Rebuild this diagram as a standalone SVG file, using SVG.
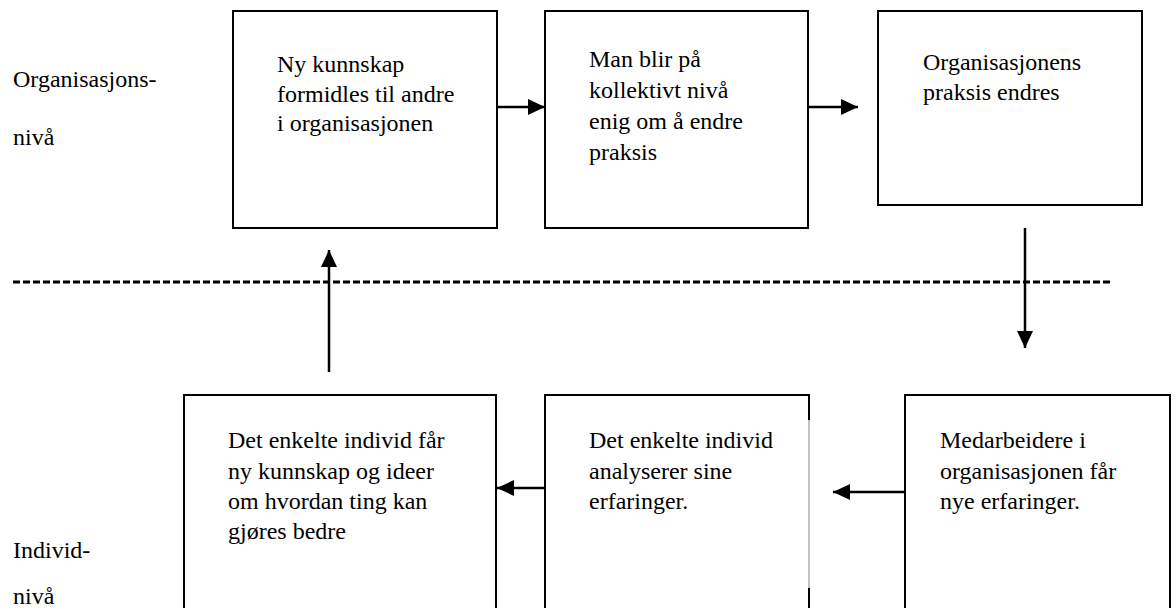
<svg xmlns="http://www.w3.org/2000/svg" width="1176" height="608" viewBox="0 0 1176 608">
<style>
.box{fill:none;stroke:#000;stroke-width:2}
text{font-family:'Liberation Serif','Times New Roman','DejaVu Serif',serif;font-size:24px;fill:#000}
.c{stroke:#000;stroke-width:2.5;fill:none}
.d{stroke:#000;stroke-width:3;stroke-dasharray:7 3;fill:none}
</style>
<defs>
<marker id="ah" markerWidth="17" markerHeight="16" refX="17" refY="8" orient="auto" markerUnits="userSpaceOnUse" viewBox="0 0 17 16">
<path d="M0,0 L17,8 L0,16 z" fill="#000"/>
</marker>
</defs>
<rect width="1176" height="608" fill="#fff"/>
<g id="lbl-org">
<text x="13" y="87">Organisasjons-</text>
<text x="13" y="145">nivå</text>
</g>
<g id="lbl-ind">
<text x="13" y="558">Individ-</text>
<text x="13" y="604">nivå</text>
</g>
<g id="n1">
<rect class="box" x="233" y="11" width="264" height="217"/>
<text x="277" y="72">Ny kunnskap</text>
<text x="277" y="102">formidles til andre</text>
<text x="277" y="131">i organisasjonen</text>
</g>
<g id="n2">
<rect class="box" x="545" y="11" width="263" height="217"/>
<text x="589" y="67">Man blir på</text>
<text x="589" y="98">kollektivt nivå</text>
<text x="589" y="129">enig om å endre</text>
<text x="589" y="160">praksis</text>
</g>
<g id="n3">
<rect class="box" x="878" y="11" width="264" height="194"/>
<text x="923" y="70">Organisasjonens</text>
<text x="923" y="100">praksis endres</text>
</g>
<g id="n4">
<rect class="box" x="184" y="395" width="312" height="230"/>
<text x="228" y="448">Det enkelte individ får</text>
<text x="228" y="479">ny kunnskap og ideer</text>
<text x="228" y="509">om hvordan ting kan</text>
<text x="228" y="539">gjøres bedre</text>
</g>
<g id="n5">
<path class="box" d="M809,420 L809,395 L545,395 L545,625"/>
<path d="M809,420 L809,588" stroke="#999" stroke-width="1.2" fill="none"/>
<path class="box" d="M809,588 L809,625"/>
<text x="589" y="448">Det enkelte individ</text>
<text x="589" y="479">analyserer sine</text>
<text x="589" y="509">erfaringer.</text>
</g>
<g id="n6">
<rect class="box" x="905" y="395" width="265" height="230"/>
<text x="940" y="448">Medarbeidere i</text>
<text x="940" y="479">organisasjonen får</text>
<text x="940" y="509">nye erfaringer.</text>
</g>
<g id="connectors">
<line class="d" x1="13" y1="282" x2="1113" y2="282"/>
<line class="c" x1="497" y1="107" x2="545" y2="107" marker-end="url(#ah)"/>
<line class="c" x1="808" y1="107" x2="858" y2="107" marker-end="url(#ah)"/>
<line class="c" x1="1025" y1="228" x2="1025" y2="348" marker-end="url(#ah)"/>
<line class="c" x1="905" y1="492" x2="833" y2="492" marker-end="url(#ah)"/>
<line class="c" x1="545" y1="488" x2="497" y2="488" marker-end="url(#ah)"/>
<line class="c" x1="329" y1="372" x2="329" y2="250" marker-end="url(#ah)"/>
</g>
</svg>
